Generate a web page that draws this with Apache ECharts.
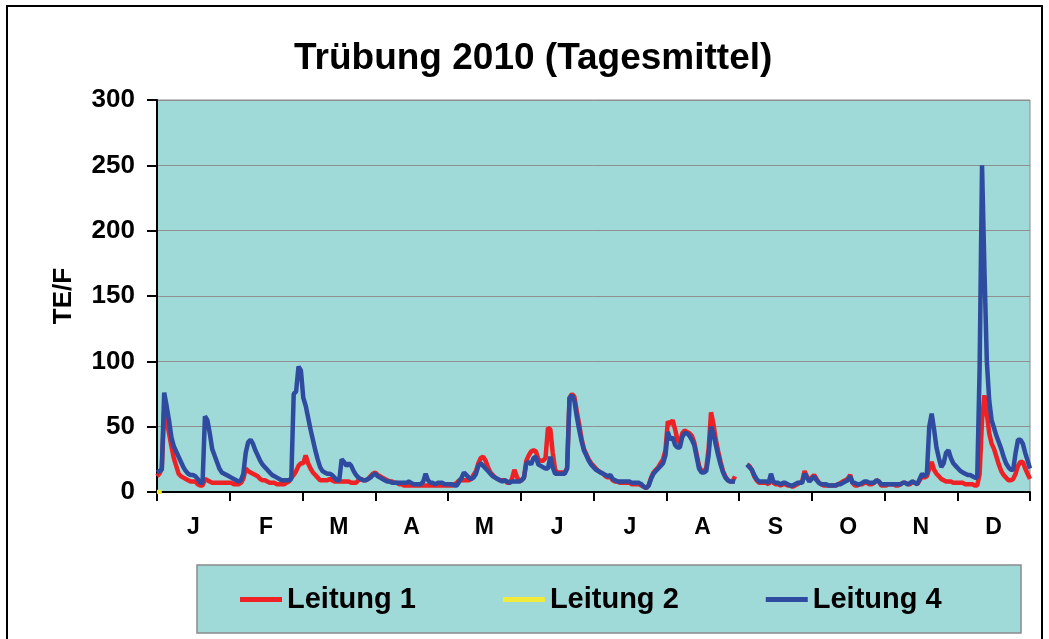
<!DOCTYPE html>
<html>
<head>
<meta charset="utf-8">
<script src="https://cdn.jsdelivr.net/npm/echarts@6/dist/echarts.min.js"></script>
<style>
  html, body { margin: 0; padding: 0; background: #fff; }
  #chart { width: 1049px; height: 639px; }
</style>
</head>
<body>
<div id="chart"></div>
<script>
// month labels for the lower axis
var monthLabels = ['J', 'F', 'M', 'A', 'M', 'J', 'J', 'A', 'S', 'O', 'N', 'D']
var yTicks = [0, 50, 100, 150, 200, 250, 300]

// daily means, day 1 .. day 365 (TE/F)
var leitung1 = [
  12, 14, 18, 62, 55, 45, 35, 26, 20, 14,
  12, 11, 10, 9, 8, 8, 8, 6, 5, 5,
  10, 9, 8, 7, 7, 7, 7, 7, 7, 7,
  7, 7, 6, 6, 6, 7, 10, 18, 16, 15,
  14, 13, 12, 10, 9, 9, 8, 7, 7, 7,
  6, 6, 6, 6, 7, 8, 11, 13, 16, 20,
  22, 22, 28, 22, 18, 15, 13, 11, 9, 9,
  9, 9, 10, 9, 8, 8, 8, 8, 8, 8,
  8, 7, 7, 7, 9, 10, 9, 9, 10, 12,
  14, 15, 13, 12, 11, 10, 9, 8, 8, 7,
  7, 6, 6, 5, 5, 5, 5, 5, 5, 5,
  5, 5, 5, 5, 5, 5, 5, 5, 5, 5,
  5, 5, 5, 5, 6, 7, 9, 9, 9, 9,
  9, 10, 13, 16, 22, 26, 27, 24, 19, 15,
  13, 11, 10, 9, 9, 9, 7, 7, 10, 17,
  12, 8, 9, 11, 24, 28, 31, 32, 31, 25,
  24, 24, 26, 49, 48, 30, 17, 15, 15, 15,
  15, 18, 72, 75, 73, 62, 52, 41, 33, 29,
  25, 22, 20, 18, 16, 15, 14, 12, 11, 12,
  9, 8, 8, 7, 7, 7, 7, 7, 6, 6,
  6, 6, 5, 4, 3, 5, 11, 15, 17, 19,
  22, 25, 32, 54, 52, 55, 48, 40, 37, 45,
  47, 46, 45, 43, 38, 29, 20, 16, 16, 18,
  33, 61, 52, 40, 31, 23, 16, 12, 9, 8,
  8, 12, null, null, null, null, 21, 20, 17, 12,
  9, 7, 7, 7, 7, 6, 11, 7, 6, 6,
  5, 6, 6, 5, 5, 4, 5, 6, 7, 8,
  16, 12, 9, 11, 13, 10, 7, 6, 5, 5,
  5, 5, 5, 5, 6, 7, 8, 9, 10, 13,
  7, 5, 5, 6, 6, 7, 7, 6, 6, 7,
  9, 8, 5, 5, 5, 6, 6, 6, 5, 5,
  6, 7, 7, 6, 6, 8, 7, 6, 9, 12,
  11, 12, 18, 23, 17, 14, 12, 10, 9, 8,
  8, 8, 7, 7, 7, 7, 7, 6, 6, 6,
  6, 5, 5, 14, 55, 74, 60, 45, 37, 33,
  27, 21, 16, 13, 11, 9, 9, 10, 14, 20,
  23, 23, 18, 14, 10
]

var leitung2 = [0, 0, 0]

var leitung4 = [
  15, 16, 17, 76, 66, 55, 42, 35, 31, 27,
  23, 19, 16, 14, 13, 13, 12, 10, 7, 7,
  58, 55, 45, 33, 28, 23, 18, 15, 14, 13,
  12, 11, 10, 9, 8, 9, 14, 30, 38, 40,
  37, 32, 28, 24, 21, 19, 17, 15, 13, 12,
  11, 10, 9, 9, 9, 9, 10, 75, 77, 96,
  93, 72, 66, 57, 48, 40, 32, 25, 19, 16,
  15, 14, 14, 13, 11, 9, 9, 25, 23, 20,
  22, 20, 16, 13, 11, 10, 9, 9, 10, 11,
  13, 14, 12, 11, 10, 9, 8, 8, 7, 7,
  7, 7, 7, 7, 7, 8, 7, 6, 6, 6,
  6, 8, 14, 9, 7, 7, 6, 7, 7, 7,
  6, 6, 6, 6, 5, 5, 8, 11, 15, 13,
  11, 10, 11, 14, 20, 22, 20, 18, 16, 14,
  12, 11, 10, 9, 8, 9, 8, 7, 8, 8,
  8, 8, 9, 11, 22, 23, 21, 26, 27, 21,
  20, 19, 18, 18, 27, 19, 14, 14, 14, 14,
  14, 18, 72, 74, 70, 58, 48, 39, 32, 28,
  24, 21, 19, 17, 16, 15, 14, 13, 12, 13,
  10, 9, 8, 8, 8, 8, 8, 8, 7, 7,
  7, 7, 6, 4, 3, 5, 10, 14, 16, 18,
  20, 22, 28, 46, 40, 42, 36, 34, 34, 42,
  45, 45, 43, 40, 36, 27, 18, 15, 15, 16,
  28, 50, 45, 36, 28, 21, 15, 11, 9, 8,
  8, 8, null, null, null, null, 21, 19, 17, 13,
  10, 8, 8, 8, 8, 7, 14, 8, 7, 7,
  6, 7, 7, 6, 5, 5, 6, 7, 7, 7,
  14, 11, 8, 10, 12, 9, 7, 6, 6, 6,
  5, 5, 5, 5, 6, 6, 7, 8, 9, 12,
  7, 7, 6, 6, 7, 8, 8, 7, 7, 7,
  9, 8, 6, 6, 6, 6, 6, 6, 6, 6,
  6, 7, 7, 6, 7, 8, 7, 6, 10, 14,
  12, 14, 50, 60, 48, 34, 26, 19, 22, 30,
  32, 26, 22, 20, 18, 16, 15, 14, 13, 13,
  12, 11, 11, 95, 250, 170, 100, 70, 55, 49,
  43, 38, 33, 27, 22, 19, 17, 17, 30, 40,
  40, 37, 30, 24, 18
]

var days = []
for (var i = 1; i <= leitung1.length; i++) days.push(String(i))

var plotBg = '#9fd9d8'
var font = 'Liberation Sans, Arial, sans-serif'

var chart = echarts.init(document.getElementById('chart'))
chart.setOption({
  backgroundColor: '#fff',
  animation: false,
  title: {
    text: 'Trübung 2010 (Tagesmittel)',
    left: 289,
    top: 35,
    textStyle: { fontFamily: font, fontSize: 37, fontWeight: 'bold', color: '#000' }
  },
  graphic: [
    {
      type: 'rect', z: -10,
      shape: { x: 7, y: 6, width: 1035, height: 650 },
      style: { fill: 'none', stroke: '#000', lineWidth: 2 }
    },
    {
      type: 'rect', z: 0,
      shape: { x: 197, y: 565, width: 824, height: 68 },
      style: { fill: plotBg, stroke: '#8a8a8a', lineWidth: 1.5 }
    }
  ],
  legend: {
    left: 240,
    top: 585,
    padding: 0,
    itemGap: 87,
    itemWidth: 42,
    itemHeight: 5,
    icon: 'rect',
    z: 10,
    textStyle: { fontFamily: font, fontSize: 29, fontWeight: 'bold', color: '#000' },
    data: ['Leitung 1', 'Leitung 2', 'Leitung 4']
  },
  grid: {
    left: 157, right: 19, top: 100, bottom: 147,
    show: true,
    backgroundColor: plotBg,
    borderColor: '#8a8a8a',
    borderWidth: 1
  },
  xAxis: [
    {
      type: 'category',
      data: days,
      boundaryGap: false,
      show: false
    },
    {
      type: 'category',
      data: monthLabels,
      position: 'bottom',
      boundaryGap: true,
      axisLine: { lineStyle: { color: '#000', width: 2 } },
      axisTick: { show: true, length: 9, lineStyle: { color: '#000', width: 2 } },
      axisLabel: {
        interval: 0, margin: 24,
        fontFamily: font, fontSize: 23, fontWeight: 'bold', color: '#000'
      },
      splitLine: { show: false }
    }
  ],
  yAxis: {
    type: 'value',
    min: 0, max: 300, interval: 50,
    name: 'TE/F',
    nameLocation: 'middle',
    nameRotate: 90,
    nameGap: 80,
    nameTextStyle: { fontFamily: font, fontSize: 26, fontWeight: 'bold', color: '#000' },
    axisLine: { show: true, lineStyle: { color: '#000', width: 2 } },
    axisTick: { show: true, length: 10, lineStyle: { color: '#000', width: 2 } },
    axisLabel: {
      margin: 22,
      fontFamily: font, fontSize: 26, fontWeight: 'bold', color: '#000',
      formatter: function (v) { return yTicks.indexOf(v) >= 0 ? String(v) : '' }
    },
    splitLine: { lineStyle: { color: '#8f8f8f', width: 1 } }
  },
  series: [
    {
      name: 'Leitung 1', type: 'line', xAxisIndex: 0,
      data: leitung1, showSymbol: false, connectNulls: false,
      lineStyle: { color: '#ee2125', width: 4.5 }, itemStyle: { color: '#ee2125' }
    },
    {
      name: 'Leitung 2', type: 'line', xAxisIndex: 0,
      data: leitung2, showSymbol: false,
      lineStyle: { color: '#f2ea3a', width: 4.5 }, itemStyle: { color: '#f2ea3a' }
    },
    {
      name: 'Leitung 4', type: 'line', xAxisIndex: 0,
      data: leitung4, showSymbol: false, connectNulls: false,
      lineStyle: { color: '#2e4b9f', width: 4.5 }, itemStyle: { color: '#2e4b9f' }
    }
  ]
})
</script>
</body>
</html>
